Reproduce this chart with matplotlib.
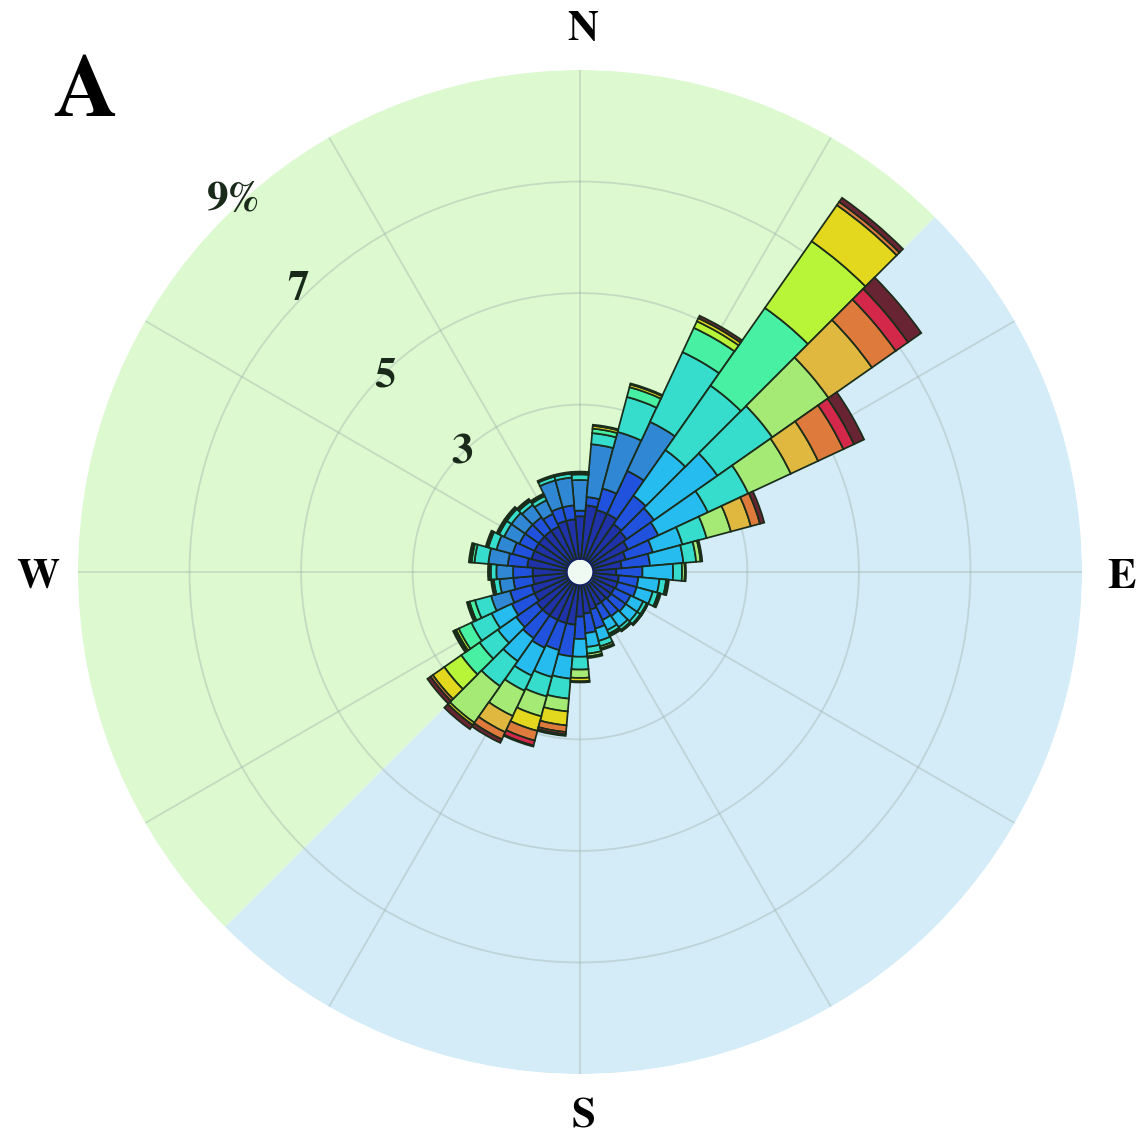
import numpy as np
import matplotlib.pyplot as plt

# wind direction sectors (degrees, clockwise from north) and speed classes
directions = np.arange(0, 360, 10)
speed_bins = ["b1", "b2", "b3", "b4", "b5", "b6", "b7", "b8", "b9", "b10", "b11", "b12", "b13"]
bin_colors = ["#2032a8", "#2152de", "#3088d4", "#26bcf0", "#36dccc", "#48f0a4", "#a6ea76",
              "#b8f438", "#e4d81e", "#e0b840", "#de7a3c", "#d4284a", "#682432"]

# frequency (%) per direction (rows) and speed class (columns)
freq = np.array([
    [1.00, 0.10, 0.55, 0, 0.10, 0.03, 0, 0, 0.02, 0, 0, 0, 0],        # 0
    [1.20, 0.15, 0.95, 0, 0.20, 0.08, 0, 0, 0.05, 0, 0, 0, 0.02],     # 10
    [1.15, 0.40, 1.05, 0, 0.65, 0.18, 0, 0, 0.05, 0, 0, 0, 0.02],     # 20
    [1.15, 0.85, 0.97, 0, 1.38, 0.48, 0, 0.13, 0.06, 0, 0, 0, 0.05],  # 30
    [1.05, 0.62, 0, 1.00, 1.41, 1.70, 0, 1.46, 0.79, 0, 0.07, 0, 0.09],  # 40
    [1.02, 0.60, 0, 1.39, 1.20, 0, 1.23, 0, 0, 0.95, 0.52, 0.27, 0.29],  # 50
    [0.95, 0.60, 0, 0.98, 0.80, 0, 0.84, 0, 0, 0.54, 0.50, 0.21, 0.20],  # 60
    [0.85, 0.50, 0, 0.55, 0.45, 0, 0.45, 0, 0, 0.37, 0.17, 0, 0.08],  # 70
    [0.75, 0.51, 0, 0.60, 0.23, 0, 0.08, 0, 0.03, 0, 0, 0, 0],        # 80
    [0.65, 0.47, 0, 0.55, 0.16, 0, 0.05, 0, 0.02, 0, 0, 0, 0],        # 90
    [0.70, 0.35, 0, 0.38, 0.12, 0, 0.03, 0, 0.02, 0, 0, 0, 0],        # 100
    [0.70, 0.35, 0, 0.30, 0.10, 0, 0.03, 0, 0.02, 0, 0, 0, 0],        # 110
    [0.68, 0.32, 0, 0.25, 0.07, 0, 0.02, 0, 0.01, 0, 0, 0, 0],        # 120
    [0.68, 0.32, 0, 0.25, 0.07, 0, 0.02, 0, 0.01, 0, 0, 0, 0],        # 130
    [0.66, 0.31, 0, 0.24, 0.06, 0, 0.02, 0, 0.01, 0, 0, 0, 0],        # 140
    [0.66, 0.29, 0, 0.20, 0.07, 0, 0.03, 0, 0.02, 0, 0, 0, 0],        # 150
    [0.70, 0.35, 0, 0.23, 0.10, 0, 0.04, 0, 0.03, 0, 0, 0, 0],        # 160
    [0.75, 0.35, 0, 0.25, 0.12, 0, 0.05, 0, 0.03, 0, 0, 0, 0],        # 170
    [0.80, 0.40, 0, 0.32, 0.23, 0, 0.15, 0, 0.06, 0, 0.02, 0, 0],     # 180
    [0.95, 0.57, 0, 0.40, 0.36, 0, 0.23, 0, 0.25, 0, 0.12, 0.04, 0.03],  # 190
    [0.95, 0.50, 0, 0.50, 0.36, 0, 0.37, 0, 0.27, 0, 0.18, 0.09, 0.02],  # 200
    [0.95, 0.55, 0, 0.55, 0.30, 0, 0.50, 0, 0, 0.32, 0.14, 0, 0.07],  # 210
    [0.95, 0.50, 0, 0.50, 0.55, 0, 0.80, 0, 0.05, 0, 0, 0, 0.09],     # 220
    [0.95, 0.45, 0, 0.40, 0.40, 0.40, 0, 0.37, 0.25, 0, 0.05, 0, 0.07],  # 230
    [0.90, 0.45, 0, 0.40, 0.40, 0.25, 0, 0.05, 0.03, 0, 0, 0, 0.03],  # 240
    [0.90, 0.40, 0.35, 0, 0.30, 0.10, 0, 0, 0.03, 0, 0, 0, 0.02],     # 250
    [0.85, 0.35, 0.25, 0, 0.10, 0.03, 0, 0, 0, 0, 0, 0, 0.02],        # 260
    [0.85, 0.35, 0.30, 0, 0.10, 0.03, 0, 0, 0, 0, 0, 0, 0.02],        # 270
    [0.95, 0.35, 0.35, 0, 0.25, 0.05, 0, 0, 0.03, 0, 0, 0, 0.02],     # 280
    [0.90, 0.35, 0.30, 0, 0.15, 0.03, 0, 0, 0, 0, 0, 0, 0.02],        # 290
    [0.90, 0.30, 0.30, 0, 0.10, 0.03, 0, 0, 0, 0, 0, 0, 0.02],        # 300
    [0.90, 0.30, 0.30, 0, 0.10, 0.03, 0, 0, 0, 0, 0, 0, 0.02],        # 310
    [0.90, 0.30, 0.27, 0, 0.08, 0.03, 0, 0, 0, 0, 0, 0, 0.02],        # 320
    [0.90, 0.25, 0.27, 0, 0.08, 0.03, 0, 0, 0, 0, 0, 0, 0.02],        # 330
    [0.95, 0.25, 0.50, 0, 0.07, 0.03, 0, 0, 0, 0, 0, 0, 0],           # 340
    [0.95, 0.25, 0.50, 0, 0.07, 0.03, 0, 0, 0, 0, 0, 0, 0],           # 350
])

ring_values = [1, 3, 5, 7]
ring_labels = ["3", "5", "7", "9%"]
ring_label_pos = [(315, 3.0), (315, 4.95), (315, 7.15), (317, 9.1)]  # (bearing, radius)
compass = {"N": (583, 30), "E": (1122, 578), "S": (583, 1118), "W": (38, 578)}

W, H = 1137, 1143
plt.rcParams["font.family"] = ["STIXGeneral", "Liberation Serif", "DejaVu Serif"]
fig = plt.figure(figsize=(W / 100, H / 100), dpi=100)
cx, cy, R = 580, 572, 502
ax = fig.add_axes([(cx - R) / W, (H - cy - R) / H, 2 * R / W, 2 * R / H], projection="polar")
ax.set_theta_zero_location("N")
ax.set_theta_direction(-1)
ax.set_ylim(0, 9)
ax.patch.set_visible(False)
ax.spines["polar"].set_visible(False)

# background halves
ax.bar(np.deg2rad(315), 9, width=np.pi, bottom=0, color="#dcf9d0", lw=0, zorder=0.5)
ax.bar(np.deg2rad(135), 9, width=np.pi, bottom=0, color="#d3ecf8", lw=0, zorder=0.5)

ax.set_thetagrids(range(0, 360, 30), labels=[])
ax.set_rgrids(ring_values, labels=[])
ax.grid(True, color="#9fb0a8", alpha=0.4, lw=1.3)
ax.set_axisbelow(False)
for gl in ax.xaxis.get_gridlines() + ax.yaxis.get_gridlines():
    gl.set_zorder(1)

theta = np.deg2rad(directions)
width = np.deg2rad(10)
cum = np.zeros(len(directions))
for k in range(len(speed_bins)):
    h = freq[:, k]
    m = h > 0
    ax.bar(theta[m], h[m], width=width, bottom=cum[m], color=bin_colors[k],
           edgecolor="#1a2c1a", lw=1.25, zorder=3)
    cum += h

# centre hole
tt = np.linspace(0, 2 * np.pi, 200)
ax.fill_between(tt, 0, 0.24, color="#eefaf2", lw=0, zorder=5)
ax.plot(tt, np.full_like(tt, 0.24), color="#142060", lw=1.5, zorder=5)

for (b, r), lab in zip(ring_label_pos, ring_labels):
    ax.text(np.deg2rad(b), r, lab, ha="center", va="center",
            fontsize=31, fontweight="bold", color="#1a2a1a", zorder=6)

for lab, (x, y) in compass.items():
    fig.text(x / W, 1 - y / H, lab, ha="center", va="center", fontsize=31, fontweight="bold")
fig.text(85 / W, 1 - 95 / H, "A", ha="center", va="center", fontsize=64, fontweight="bold")

fig.savefig("out.png", dpi=100, facecolor="white")
